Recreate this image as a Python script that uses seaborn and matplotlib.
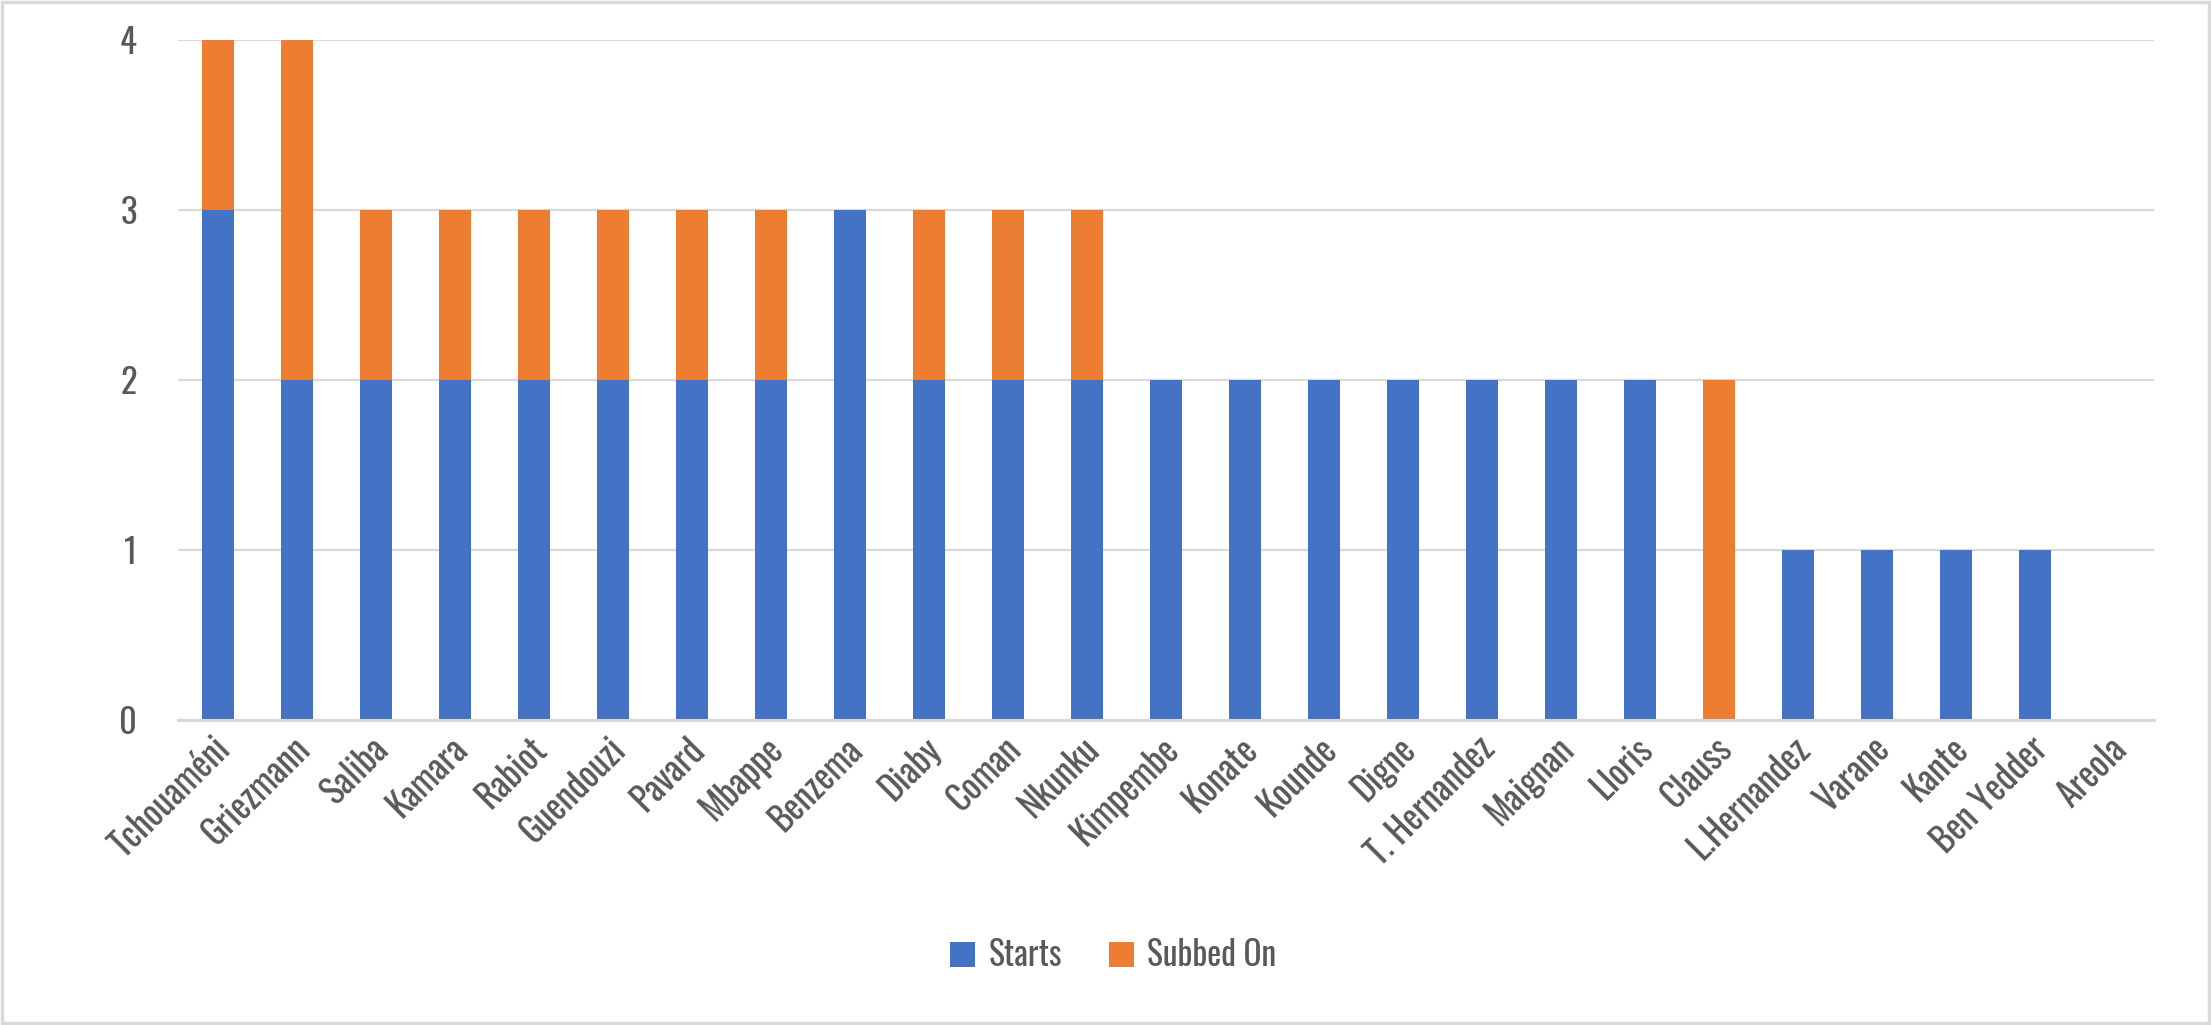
import matplotlib
matplotlib.use("Agg")
import pandas as pd
import seaborn as sns
from matplotlib import pyplot as plt
from matplotlib.patches import Rectangle
from matplotlib.transforms import ScaledTranslation

# data
players = ['Tchouaméni', 'Griezmann', 'Saliba', 'Kamara', 'Rabiot', 'Guendouzi',
           'Pavard', 'Mbappe', 'Benzema', 'Diaby', 'Coman', 'Nkunku', 'Kimpembe',
           'Konate', 'Kounde', 'Digne', 'T. Hernandez', 'Maignan', 'Lloris',
           'Clauss', 'L.Hernandez', 'Varane', 'Kante', 'Ben Yedder', 'Areola']
starts = [3, 2, 2, 2, 2, 2, 2, 2, 3, 2, 2, 2, 2, 2, 2, 2, 2, 2, 2, 0, 1, 1, 1, 1, 0]
subbed_on = [1, 2, 1, 1, 1, 1, 1, 1, 0, 1, 1, 1, 0, 0, 0, 0, 0, 0, 0, 2, 0, 0, 0, 0, 0]

df = pd.DataFrame({'player': players, 'Starts': starts, 'Subbed On': subbed_on})
df['total'] = df['Starts'] + df['Subbed On']

blue = '#4472C4'
orange = '#ED7D31'
txt = '#595959'
grid = '#D9D9D9'

sns.set_style('white')
plt.rcParams['font.family'] = ['Oswald', 'DejaVu Sans']

fig = plt.figure(figsize=(22.11, 10.25), dpi=100)
ax = fig.add_axes([0.0807, 0.2976, 0.8935, 0.6634])

# stacked bars: total in orange underneath, starts in blue on top
sns.barplot(data=df, x='player', y='total', color=orange, width=0.405,
            saturation=1, linewidth=0, ax=ax, label='Subbed On')
sns.barplot(data=df, x='player', y='Starts', color=blue, width=0.405,
            saturation=1, linewidth=0, ax=ax, label='Starts')

ax.set_ylim(0, 4)
ax.set_xlim(-0.5, len(players) - 0.5)
ax.set_yticks([0, 1, 2, 3, 4])
ax.set_xlabel('')
ax.set_ylabel('')
ax.yaxis.grid(True, color=grid, linewidth=1.6)
ax.set_axisbelow(True)
for s in ['left', 'right', 'top']:
    ax.spines[s].set_visible(False)
ax.spines['bottom'].set_color(grid)
ax.spines['bottom'].set_linewidth(2.2)

ax.tick_params(axis='y', length=0, pad=30, labelsize=25, labelcolor=txt)
ax.tick_params(axis='x', length=0, pad=17, labelsize=25.5, labelcolor=txt)
shift = ScaledTranslation(5 / 72, 0, fig.dpi_scale_trans)
for lab in ax.get_xticklabels():
    lab.set_rotation(45)
    lab.set_ha('right')
    lab.set_va('center')
    lab.set_rotation_mode('anchor')
    lab.set_transform(lab.get_transform() + shift)

h, l = ax.get_legend_handles_labels()
order = [l.index('Starts'), l.index('Subbed On')]
ax.legend([h[i] for i in order], [l[i] for i in order], loc='center',
          bbox_to_anchor=(0.5035, 0.068), bbox_transform=fig.transFigure,
          ncol=2, frameon=False, fontsize=24, labelcolor=txt,
          handlelength=0.75, handleheight=0.75, handletextpad=0.4,
          columnspacing=1.4)

# light grey frame round the whole chart
fig.patches.append(Rectangle((0.0007, 0.0015), 0.9986, 0.997, transform=fig.transFigure,
                             fill=False, edgecolor=grid, linewidth=2.5))

fig.savefig('out.png', dpi=100)
